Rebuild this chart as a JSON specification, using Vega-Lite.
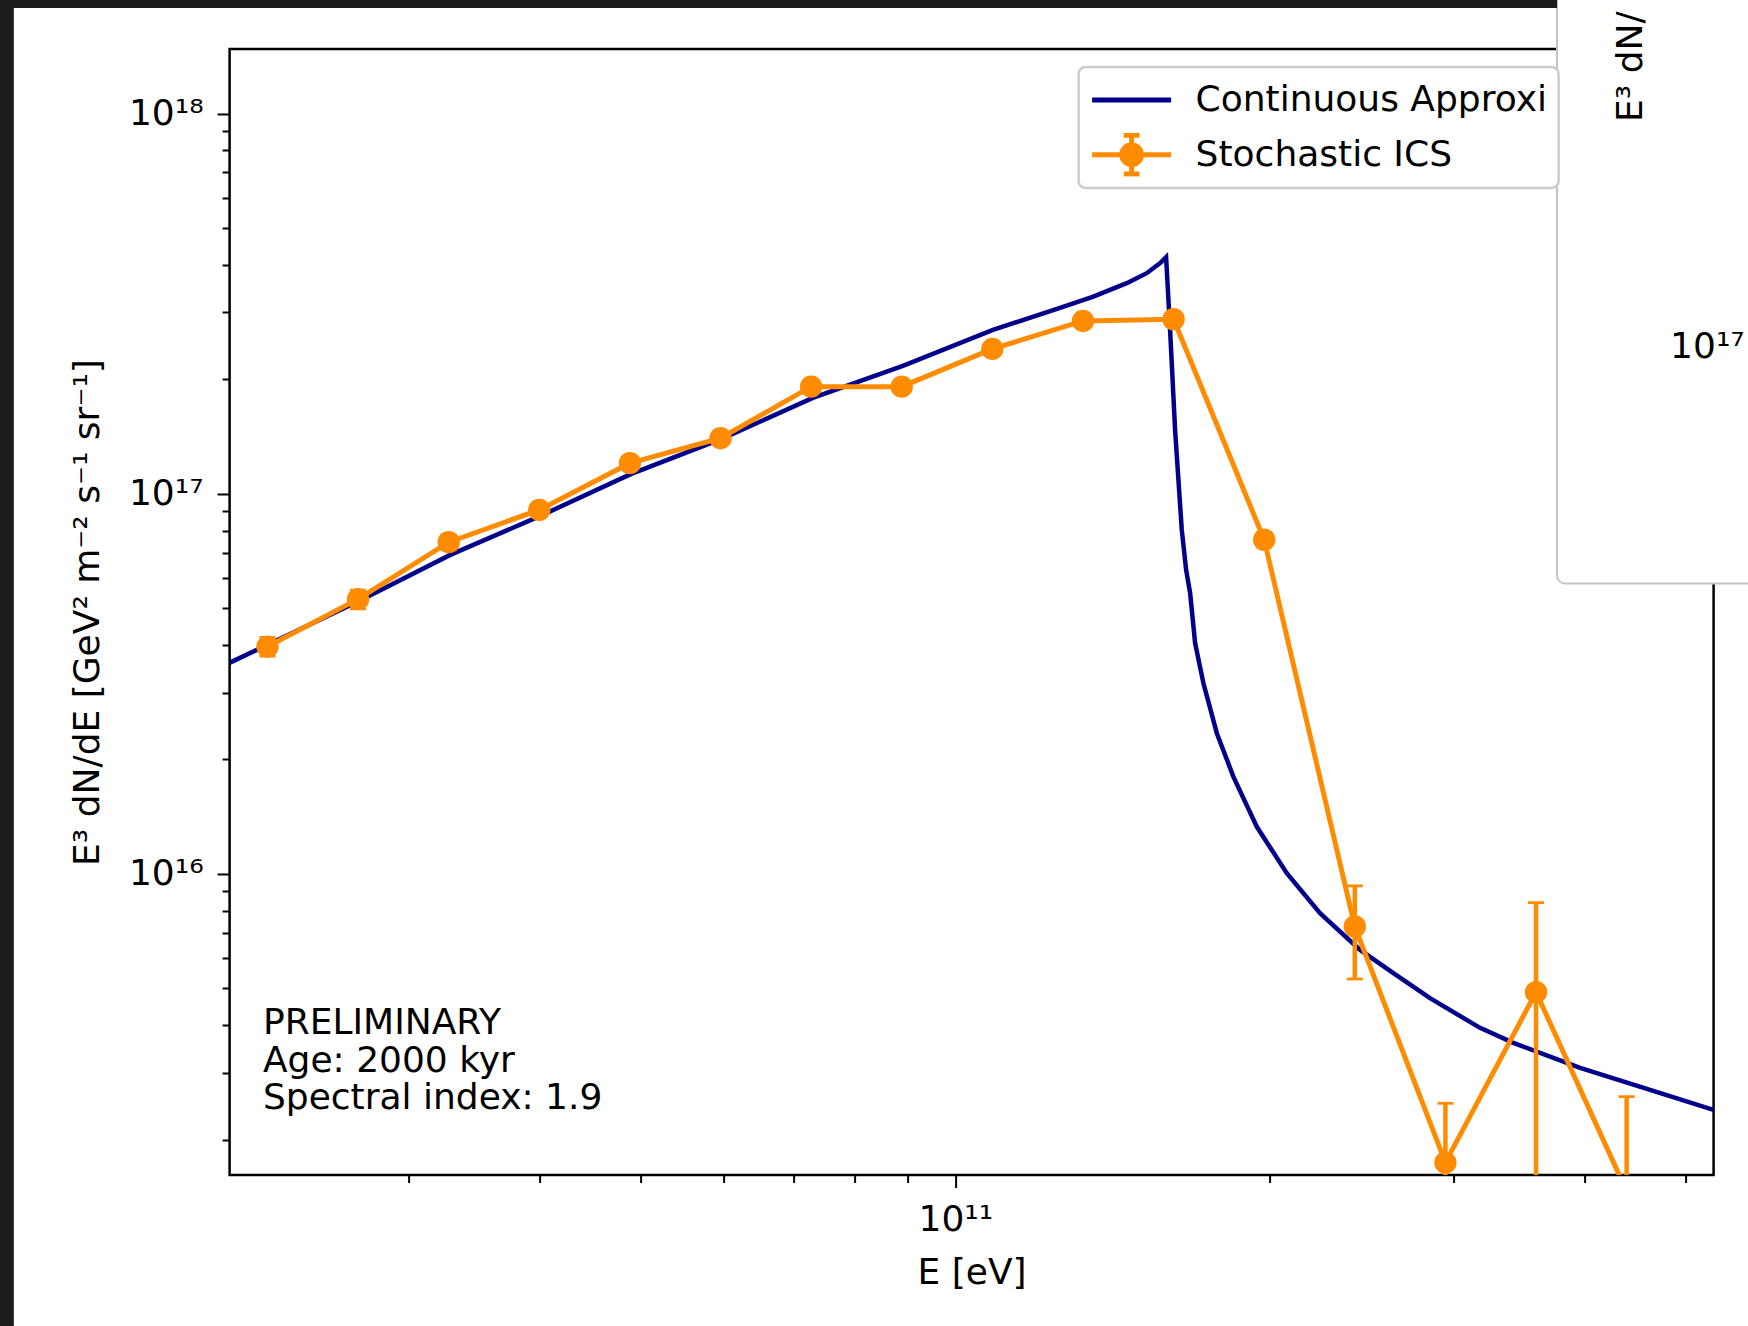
{
  "$schema": "https://vega.github.io/schema/vega-lite/v6.json",
  "width": 1484,
  "height": 1126,
  "autosize": {"type": "none"},
  "padding": {"left": 229.6, "top": 49, "right": 34.4, "bottom": 151},
  "background": "white",
  "config": {
    "font": "DejaVu Sans",
    "view": {"stroke": "black", "strokeWidth": 2.5},
    "axis": {"labelFont": "DejaVu Sans", "titleFont": "DejaVu Sans", "labelColor": "black", "titleColor": "black", "titleFontWeight": "normal", "tickColor": "black", "tickWidth": 2, "domain": false, "grid": false, "labelFontSize": 36, "titleFontSize": 36},
    "legend": {"strokeWidth": 2.5}
  },
  "datasets": {
    "cont": [
      {"E": 2.019e10, "F": 3.589e16},
      {"E": 2.687e10, "F": 5.225e16},
      {"E": 3.285e10, "F": 6.906e16},
      {"E": 4.007e10, "F": 8.745e16},
      {"E": 4.896e10, "F": 1.1277e17},
      {"E": 5.975e10, "F": 1.394e17},
      {"E": 7.304e10, "F": 1.787e17},
      {"E": 8.908e10, "F": 2.170e17},
      {"E": 1.0864e11, "F": 2.698e17},
      {"E": 1.2594e11, "F": 3.083e17},
      {"E": 1.3553e11, "F": 3.301e17},
      {"E": 1.4589e11, "F": 3.581e17},
      {"E": 1.5246e11, "F": 3.804e17},
      {"E": 1.5703e11, "F": 4.042e17},
      {"E": 1.5911e11, "F": 4.191e17},
      {"E": 1.6052e11, "F": 2.698e17},
      {"E": 1.6230e11, "F": 1.472e17},
      {"E": 1.6471e11, "F": 8.034e16},
      {"E": 1.6630e11, "F": 6.305e16},
      {"E": 1.6777e11, "F": 5.476e16},
      {"E": 1.6963e11, "F": 4.046e16},
      {"E": 1.7276e11, "F": 3.174e16},
      {"E": 1.7794e11, "F": 2.345e16},
      {"E": 1.8454e11, "F": 1.803e16},
      {"E": 1.9428e11, "F": 1.332e16},
      {"E": 2.0760e11, "F": 1.0042e16},
      {"E": 2.2337e11, "F": 7.882e15},
      {"E": 2.4399e11, "F": 6.310e15},
      {"E": 2.6257e11, "F": 5.481e15},
      {"E": 2.8465e11, "F": 4.709e15},
      {"E": 3.1784e11, "F": 3.935e15},
      {"E": 3.4204e11, "F": 3.593e15},
      {"E": 3.9627e11, "F": 3.088e15},
      {"E": 4.6231e11, "F": 2.703e15},
      {"E": 5.3186e11, "F": 2.394e15}
    ],
    "stoch": [
      {"E": 2.196e10, "F": 3.963e16, "lo": 3.74e16, "hi": 4.19e16},
      {"E": 2.681e10, "F": 5.28e16, "lo": 4.98e16, "hi": 5.58e16},
      {"E": 3.274e10, "F": 7.458e16, "lo": 7.12e16, "hi": 7.80e16},
      {"E": 3.997e10, "F": 9.07e16, "lo": 8.70e16, "hi": 9.45e16},
      {"E": 4.881e10, "F": 1.2035e17, "lo": 1.16e17, "hi": 1.25e17},
      {"E": 5.960e10, "F": 1.40e17, "lo": 1.35e17, "hi": 1.45e17},
      {"E": 7.277e10, "F": 1.913e17, "lo": 1.86e17, "hi": 1.97e17},
      {"E": 8.885e10, "F": 1.913e17, "lo": 1.86e17, "hi": 1.97e17},
      {"E": 1.0850e11, "F": 2.404e17, "lo": 2.35e17, "hi": 2.46e17},
      {"E": 1.3248e11, "F": 2.849e17, "lo": 2.80e17, "hi": 2.90e17},
      {"E": 1.6176e11, "F": 2.878e17, "lo": 2.83e17, "hi": 2.93e17},
      {"E": 1.9751e11, "F": 7.568e16, "lo": 7.25e16, "hi": 7.90e16},
      {"E": 2.4117e11, "F": 7.27e15, "lo": 5.29e15, "hi": 9.30e15},
      {"E": 2.9448e11, "F": 1.740e15, "lo": 9.9e14, "hi": 2.492e15},
      {"E": 3.5957e11, "F": 4.885e15, "lo": 1.37e15, "hi": 8.40e15},
      {"E": 4.3905e11, "F": 1.462e15, "lo": 3.3e14, "hi": 2.596e15}
    ]
  },
  "layer": [
    {
      "data": {"name": "cont"},
      "mark": {"type": "line", "strokeWidth": 4.5, "clip": true},
      "encoding": {
        "x": {
          "field": "E", "type": "quantitative",
          "scale": {"type": "log", "domain": [2.02e10, 5.318e11], "nice": false, "zero": false},
          "axis": {
            "title": "E [eV]",
            "values": [3e10, 4e10, 5e10, 6e10, 7e10, 8e10, 9e10, 1e11, 2e11, 3e11, 4e11, 5e11],
            "labelExpr": "datum.value == 1e11 ? '10¹¹' : ''",
            "tickSize": {"condition": {"test": "datum.value == 1e11", "value": 12.5}, "value": 7.5},
            "labelBaseline": "alphabetic",
            "labelPadding": 43,
            "labelFlush": false,
            "titleY": 108.3,
            "titleBaseline": "alphabetic"
          }
        },
        "y": {
          "field": "F", "type": "quantitative",
          "scale": {"type": "log", "domain": [1.614e15, 1.479e18], "nice": false, "zero": false},
          "axis": {
            "title": "E³ dN/dE [GeV² m⁻² s⁻¹ sr⁻¹]",
            "values": [2e15, 3e15, 4e15, 5e15, 6e15, 7e15, 8e15, 9e15, 1e16, 2e16, 3e16, 4e16, 5e16, 6e16, 7e16, 8e16, 9e16, 1e17, 2e17, 3e17, 4e17, 5e17, 6e17, 7e17, 8e17, 9e17, 1e18],
            "labelExpr": "datum.value == 1e16 ? '10¹⁶' : datum.value == 1e17 ? '10¹⁷' : datum.value == 1e18 ? '10¹⁸' : ''",
            "tickSize": {"condition": {"test": "datum.value == 1e16 || datum.value == 1e17 || datum.value == 1e18", "value": 12.5}, "value": 7.5},
            "labelPadding": 14,
            "labelFlush": false,
            "titleX": -131.4,
            "titleBaseline": "alphabetic"
          }
        },
        "color": {
          "datum": "Continuous Approximation", "type": "nominal",
          "scale": {"domain": ["Continuous Approximation", "Stochastic ICS"], "range": ["#00008b", "#ff8c00"]},
          "legend": {
            "orient": "none", "legendX": 849, "legendY": 18, "title": null,
            "labelFontSize": 36, "labelColor": "black", "labelFont": "DejaVu Sans", "labelLimit": 2000,
            "symbolType": "M-1,0H1", "symbolSize": 6241, "symbolStrokeWidth": 5,
            "clipHeight": 44, "labelOffset": 22, "padding": 11, "rowPadding": 10.7,
            "strokeColor": "#cccccc", "cornerRadius": 7, "fillColor": "white",
            "labelExpr": "datum.label == 'Continuous Approximation' ? 'Continuous Approxi' : datum.label"
          }
        }
      }
    },
    {
      "data": {"name": "stoch"},
      "mark": {"type": "line", "strokeWidth": 5, "clip": true},
      "encoding": {
        "x": {"field": "E", "type": "quantitative"},
        "y": {"field": "F", "type": "quantitative"},
        "color": {"datum": "Stochastic ICS", "type": "nominal"}
      }
    },
    {
      "data": {"values": [{}]},
      "mark": {"type": "point", "opacity": 0, "clip": true},
      "encoding": {
        "x": {"datum": 1e11, "type": "quantitative"},
        "y": {"datum": 1e17, "type": "quantitative"},
        "color": {"datum": "Stochastic ICS", "type": "nominal"},
        "shape": {
          "datum": "Stochastic ICS", "type": "nominal",
          "scale": {"domain": ["Continuous Approximation", "Stochastic ICS"], "range": ["M-1,0H1", "M-1,0H1M0,-0.49V0.49M-0.2,-0.49H0.2M-0.2,0.49H0.2M-0.25,0A0.25,0.25 0 1,0 0.25,0A0.25,0.25 0 1,0 -0.25,0M-0.15,0A0.15,0.15 0 1,0 0.15,0A0.15,0.15 0 1,0 -0.15,0M-0.05,0A0.05,0.05 0 1,0 0.05,0A0.05,0.05 0 1,0 -0.05,0"]},
          "legend": {"title": null}
        }
      }
    },
    {
      "data": {"name": "stoch"},
      "mark": {"type": "rule", "color": "#ff8c00", "strokeWidth": 4.5, "clip": true},
      "encoding": {
        "x": {"field": "E", "type": "quantitative"},
        "y": {"field": "lo", "type": "quantitative"},
        "y2": {"field": "hi"}
      }
    },
    {
      "data": {"name": "stoch"},
      "mark": {"type": "tick", "orient": "horizontal", "color": "#ff8c00", "size": 16, "thickness": 2.8, "opacity": 1, "clip": true},
      "encoding": {
        "x": {"field": "E", "type": "quantitative"},
        "y": {"field": "hi", "type": "quantitative"}
      }
    },
    {
      "data": {"name": "stoch"},
      "mark": {"type": "tick", "orient": "horizontal", "color": "#ff8c00", "size": 16, "thickness": 2.8, "opacity": 1, "clip": true},
      "encoding": {
        "x": {"field": "E", "type": "quantitative"},
        "y": {"field": "lo", "type": "quantitative"}
      }
    },
    {
      "data": {"name": "stoch"},
      "mark": {"type": "point", "filled": true, "shape": "circle", "size": 500, "color": "#ff8c00", "opacity": 1, "clip": true},
      "encoding": {
        "x": {"field": "E", "type": "quantitative"},
        "y": {"field": "F", "type": "quantitative"}
      }
    },
    {
      "data": {"values": [{}]},
      "mark": {"type": "text", "text": ["PRELIMINARY", "Age: 2000 kyr", "Spectral index: 1.9"], "align": "left", "baseline": "alphabetic", "fontSize": 36, "lineHeight": 37.5, "color": "black", "font": "DejaVu Sans"},
      "encoding": {
        "x": {"datum": 2.174e10, "type": "quantitative"},
        "y": {"datum": 3.787e15, "type": "quantitative"}
      }
    },
    {
      "data": {"values": [{}]},
      "mark": {"type": "rect", "color": "white", "stroke": "#c4c4c4", "strokeWidth": 2, "cornerRadius": 8, "clip": false},
      "encoding": {
        "x": {"datum": 3.766e11, "type": "quantitative"},
        "x2": {"datum": 1e14},
        "y": {"datum": 5.806e16, "type": "quantitative"},
        "y2": {"datum": 1e21}
      }
    },
    {
      "data": {"values": [{}]},
      "mark": {"type": "text", "text": "E³ dN/", "angle": 270, "align": "left", "baseline": "alphabetic", "fontSize": 36, "color": "black", "font": "DejaVu Sans", "clip": false},
      "encoding": {
        "x": {"datum": 4.542e11, "type": "quantitative"},
        "y": {"datum": 9.51e17, "type": "quantitative"}
      }
    },
    {
      "data": {"values": [{}]},
      "mark": {"type": "text", "text": "10¹⁷", "align": "left", "baseline": "alphabetic", "fontSize": 36, "color": "black", "font": "DejaVu Sans", "clip": false},
      "encoding": {
        "x": {"datum": 4.832e11, "type": "quantitative"},
        "y": {"datum": 2.279e17, "type": "quantitative"}
      }
    },
    {
      "data": {"values": [{}]},
      "mark": {"type": "rect", "color": "#1c1c1c", "clip": false},
      "encoding": {
        "x": {"datum": 1e8, "type": "quantitative"},
        "x2": {"datum": 3.766e11},
        "y": {"datum": 1.897e18, "type": "quantitative"},
        "y2": {"datum": 1e21}
      }
    },
    {
      "data": {"values": [{}]},
      "mark": {"type": "rect", "color": "#1c1c1c", "clip": false},
      "encoding": {
        "x": {"datum": 1e8, "type": "quantitative"},
        "x2": {"datum": 1.2555e10},
        "y": {"datum": 1e12, "type": "quantitative"},
        "y2": {"datum": 1e21}
      }
    }
  ]
}
